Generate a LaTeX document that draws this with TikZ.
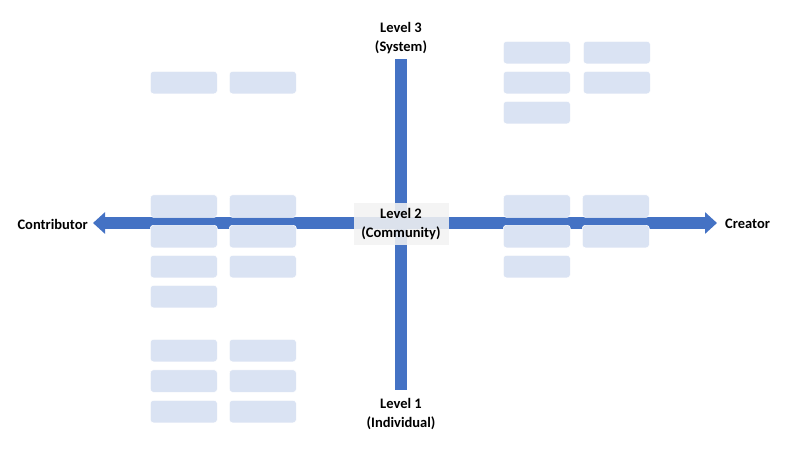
\documentclass[tikz,border=0pt]{standalone}
\usepackage{fontspec}
\setmainfont{Carlito}
\usetikzlibrary{arrows.meta}
\definecolor{axisblue}{HTML}{4472C4}
\definecolor{cardblue}{HTML}{DAE3F3}
\definecolor{labelgray}{HTML}{F2F2F2}
\tikzset{
  card/.style={fill=cardblue, draw=white, line width=0.6pt, rounded corners=3pt,
    minimum width=67pt, minimum height=22.5pt, inner sep=0pt, anchor=north west},
  lbl/.style={font=\fontsize{14.5}{18.5}\selectfont\bfseries, align=center, inner sep=0pt},
  axis/.style={draw=axisblue, line width=12pt},
}
\begin{document}
\begin{tikzpicture}[x=1pt,y=-1pt]
\useasboundingbox (0,0) rectangle (800,450);
% axis end points
\coordinate (vt) at (401,59);
\coordinate (vb) at (401,390);
\coordinate (hl) at (93,223);
\coordinate (hr) at (717,223);
% labels
\node[lbl] (l3) at (401,38) {Level 3\\(System)};
\node[lbl] (l1) at (401,414) {Level 1\\(Individual)};
\node[lbl, anchor=east] (contrib) at (88,224) {Contributor};
\node[lbl, anchor=west] (creator) at (725,224) {Creator};
% axes
\draw[axis] (vt) -- (vb);
\draw[axis, {Triangle[length=12pt,width=21pt]}-{Triangle[length=12pt,width=21pt]}] (hl) -- (hr);
% center label
\node[lbl, fill=labelgray, fill opacity=0.88, text opacity=1, minimum width=95pt, minimum height=42pt] (l2) at (401,224) {Level 2\\(Community)};
% left top cluster
\node[card] (a1) at (150,71) {};
\node[card] (a2) at (229,71) {};
% left middle cluster
\node[card] (b1) at (150,194.5) {};
\node[card] (b2) at (229,194.5) {};
\node[card] (b3) at (150,225) {};
\node[card] (b4) at (229,225) {};
\node[card] (b5) at (150,255) {};
\node[card] (b6) at (229,255) {};
\node[card] (b7) at (150,285) {};
% left bottom cluster
\node[card] (c1) at (150,339) {};
\node[card] (c2) at (229,339) {};
\node[card] (c3) at (150,369.5) {};
\node[card] (c4) at (229,369.5) {};
\node[card] (c5) at (150,400) {};
\node[card] (c6) at (229,400) {};
% right top cluster
\node[card] (d1) at (503,41) {};
\node[card] (d2) at (583,41) {};
\node[card] (d3) at (503,71) {};
\node[card] (d4) at (583,71) {};
\node[card] (d5) at (503,101) {};
% right middle cluster
\node[card] (e1) at (503,194.5) {};
\node[card] (e2) at (582,194.5) {};
\node[card] (e3) at (503,225) {};
\node[card] (e4) at (582,225) {};
\node[card] (e5) at (503,255) {};
\end{tikzpicture}
\end{document}
